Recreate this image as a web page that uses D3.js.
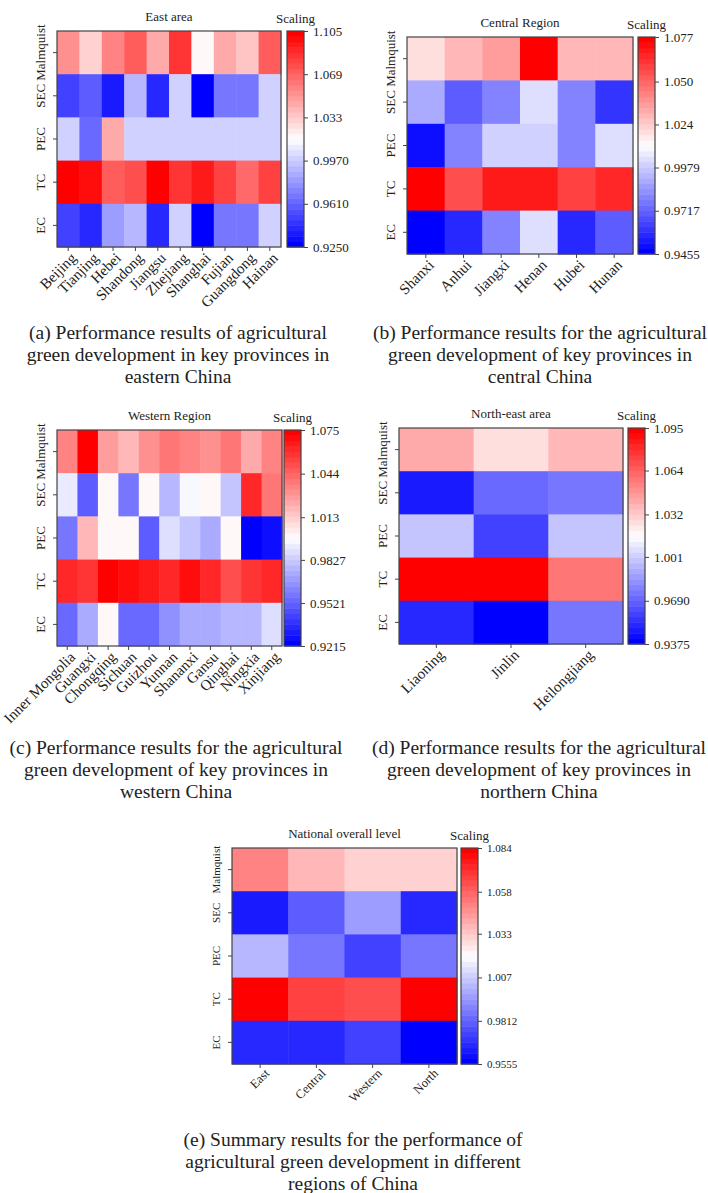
<!DOCTYPE html>
<html>
<head>
<meta charset="utf-8">
<script src="https://cdn.jsdelivr.net/npm/d3@7"></script>
<style>
  body { margin: 0; background: #fff; }
  svg { display: block; }
  text { font-family: "Liberation Serif", "Times New Roman", serif; fill: #222; }
</style>
</head>
<body>
<div id="chart"></div>
<script>
// ---- data ----
const indicators = ["Malmquist", "SEC", "PEC", "TC", "EC"];

const eastProvinces = ["Beijing", "Tianjing", "Hebei", "Shandong", "Jiangsu", "Zhejiang", "Shanghai", "Fujian", "Guangdong", "Hainan"];
const eastValues = [
    [1.055, 1.031, 1.059, 1.069, 1.045, 1.083, 1.019, 1.044, 1.033, 1.073],
    [0.950, 0.958, 0.936, 0.990, 0.941, 0.999, 0.925, 0.967, 0.967, 0.999],
    [1.000, 0.964, 1.045, 1.000, 1.000, 1.000, 1.000, 1.000, 1.000, 1.000],
    [1.105, 1.098, 1.073, 1.077, 1.105, 1.084, 1.094, 1.080, 1.066, 1.079],
    [0.950, 0.939, 0.980, 0.992, 0.943, 1.000, 0.925, 0.966, 0.966, 1.000]
];
const eastTicks = ["0.9250", "0.9610", "0.9970", "1.033", "1.069", "1.105"];

const centralProvinces = ["Shanxi", "Anhui", "Jiangxi", "Henan", "Hubei", "Hunan"];
const centralValues = [
    [1.019, 1.028, 1.037, 1.077, 1.028, 1.028],
    [0.991, 0.971, 0.979, 1.004, 0.979, 0.961],
    [0.951, 0.980, 1.000, 1.000, 0.980, 1.004],
    [1.077, 1.056, 1.070, 1.070, 1.058, 1.066],
    [0.9455, 0.956, 0.981, 1.004, 0.958, 0.970]
];
const centralTicks = ["0.9455", "0.9717", "0.9979", "1.024", "1.050", "1.077"];

const westernProvinces = ["Inner Mongolia", "Guangxi", "Chongqing", "Sichuan", "Guizhou", "Yunnan", "Shananxi", "Gansu", "Qinghai", "Ningxia", "Xinjiang"];
const westernValues = [
    [1.033, 1.075, 1.028, 1.019, 1.029, 1.040, 1.034, 1.032, 1.038, 1.024, 1.034],
    [0.991, 0.949, 1.001, 0.958, 1.001, 0.979, 0.995, 1.002, 0.980, 1.061, 1.038],
    [0.959, 1.019, 1.000, 1.000, 0.949, 0.989, 0.980, 0.974, 1.000, 0.9215, 0.928],
    [1.061, 1.058, 1.075, 1.069, 1.064, 1.061, 1.068, 1.063, 1.051, 1.058, 1.063],
    [0.953, 0.974, 1.000, 0.956, 0.956, 0.965, 0.972, 0.972, 0.977, 0.977, 0.989]
];
const westernTicks = ["0.9215", "0.9521", "0.9827", "1.013", "1.044", "1.075"];

const northProvinces = ["Liaoning", "Jinlin", "Heilongjiang"];
const northValues = [
    [1.042, 1.026, 1.037],
    [0.947, 0.970, 0.975],
    [0.999, 0.958, 0.998],
    [1.095, 1.095, 1.056],
    [0.950, 0.9375, 0.976]
];
const northTicks = ["0.9375", "0.9690", "1.001", "1.032", "1.064", "1.095"];

const nationalRegions = ["East", "Central", "Western", "North"];
const nationalValues = [
    [1.049, 1.036, 1.032, 1.032],
    [0.964, 0.981, 0.996, 0.968],
    [1.002, 0.986, 0.972, 0.985],
    [1.084, 1.066, 1.063, 1.084],
    [0.967, 0.968, 0.973, 0.9555]
];
const nationalTicks = ["0.9555", "0.9812", "1.007", "1.033", "1.058", "1.084"];

const captionA = ["(a) Performance results of agricultural", "green development in key provinces in", "eastern China"];
const captionB = ["(b) Performance results for the agricultural", "green development of key provinces in", "central China"];
const captionC = ["(c) Performance results for the agricultural", "green development of key provinces in", "western China"];
const captionD = ["(d) Performance results for the agricultural", "green development of key provinces in", "northern China"];
const captionE = ["(e) Summary results for the performance of", "agricultural green development in different", "regions of China"];

// ---- layout ----
const W = 708, H = 1193;

const svg = d3.select("#chart").append("svg")
    .attr("width", W)
    .attr("height", H);

const panels = [
    {title: "East area", cols: eastProvinces, vals: eastValues, ticks: eastTicks,
        x0: 57, x1: 281, y0: 31, y1: 247, cb: 287, fs: 13, xfs: 15, cfs: 13, xo: [9, 12],
        caption: captionA, cx: 178, cy: 339},
    {title: "Central Region", cols: centralProvinces, vals: centralValues, ticks: centralTicks,
        x0: 407, x1: 633, y0: 37, y1: 254, cb: 638, fs: 13, xfs: 15, cfs: 13, xo: [9, 12],
        caption: captionB, cx: 540, cy: 339},
    {title: "Western Region", cols: westernProvinces, vals: westernValues, ticks: westernTicks,
        x0: 57, x1: 282, y0: 430, y1: 646, cb: 284, fs: 13, xfs: 15, cfs: 13, xo: [9, 12],
        caption: captionC, cx: 176, cy: 754},
    {title: "North-east area", cols: northProvinces, vals: northValues, ticks: northTicks,
        x0: 399, x1: 623, y0: 428, y1: 644, cb: 628, fs: 13, xfs: 15, cfs: 13, xo: [9, 12],
        caption: captionD, cx: 539, cy: 754},
    {title: "National overall level", cols: nationalRegions, vals: nationalValues, ticks: nationalTicks,
        x0: 232, x1: 457, y0: 848, y1: 1064, cb: 461, fs: 11, xfs: 12.5, cfs: 11, xo: [10, 10],
        caption: captionE, cx: 353, cy: 1146}
];

function makeColor(lo, hi) {
    let lin = d3.scaleLinear()
        .domain([lo, (lo + hi) / 2, hi])
        .range(["#0000ff", "#ffffff", "#ff0000"]);
    let n = 40;
    let colors = d3.range(n).map(i => lin(lo + (hi - lo) * i / (n - 1)));
    return d3.scaleQuantize().domain([lo, hi]).range(colors);
}

function drawPanel(p) {
    let g = svg.append("g");
    let lo = +p.ticks[0], hi = +p.ticks[p.ticks.length - 1];
    let color = makeColor(lo, hi);

    let x = d3.scaleBand().domain(p.cols).range([p.x0, p.x1]);
    let y = d3.scaleBand().domain(indicators).range([p.y0, p.y1]);

    let cells = [];
    indicators.forEach((r, i) => p.cols.forEach((c, j) => cells.push({r: r, c: c, v: p.vals[i][j]})));

    g.selectAll("rect.cell")
        .data(cells)
        .enter().append("rect")
        .attr("class", "cell")
        .attr("x", d => x(d.c))
        .attr("y", d => y(d.r))
        .attr("width", x.bandwidth() + 0.5)
        .attr("height", y.bandwidth() + 0.5)
        .attr("fill", d => color(d.v));

    g.append("rect")
        .attr("x", p.x0).attr("y", p.y0)
        .attr("width", p.x1 - p.x0).attr("height", p.y1 - p.y0)
        .attr("fill", "none").attr("stroke", "#444").attr("stroke-width", 1.2);

    // y axis, labels rotated
    let yAxis = g.append("g")
        .attr("transform", `translate(${p.x0},0)`)
        .call(d3.axisLeft(y).tickSize(4));
    yAxis.select(".domain").remove();
    yAxis.selectAll("line").attr("stroke", "#444");
    yAxis.selectAll("text")
        .attr("x", null).attr("dy", null)
        .attr("text-anchor", "middle")
        .attr("transform", "translate(-12,0) rotate(-90)")
        .attr("font-size", p.fs)
        .style("font-size", p.fs + "px")
        .attr("fill", "#222");

    // x axis, labels at 45 degrees
    let xAxis = g.append("g")
        .attr("transform", `translate(0,${p.y1})`)
        .call(d3.axisBottom(x).tickSize(4));
    xAxis.select(".domain").remove();
    xAxis.selectAll("line").attr("stroke", "#444");
    xAxis.selectAll("text")
        .attr("y", null).attr("dy", null)
        .attr("text-anchor", "end")
        .attr("transform", `translate(${p.xo[0]},${p.xo[1]}) rotate(-45)`)
        .attr("font-size", p.xfs)
        .style("font-size", p.xfs + "px")
        .attr("fill", "#222");

    // colour bar
    let cbw = 17;
    let cy = d3.scaleLinear().domain([lo, hi]).range([p.y1, p.y0]);
    let bands = color.range().map(c => {
        let e = color.invertExtent(c);
        return {c: c, a: e[0], b: e[1]};
    });
    g.selectAll("rect.band")
        .data(bands)
        .enter().append("rect")
        .attr("class", "band")
        .attr("x", p.cb)
        .attr("y", d => cy(d.b))
        .attr("width", cbw)
        .attr("height", d => cy(d.a) - cy(d.b) + 0.5)
        .attr("fill", d => d.c);
    g.append("rect")
        .attr("x", p.cb).attr("y", p.y0)
        .attr("width", cbw).attr("height", p.y1 - p.y0)
        .attr("fill", "none").attr("stroke", "#444").attr("stroke-width", 1.2);

    let tickVals = p.ticks.map(Number);
    let cbAxis = g.append("g")
        .attr("transform", `translate(${p.cb + cbw},0)`)
        .call(d3.axisRight(cy).tickValues(tickVals).tickSize(4).tickPadding(5)
            .tickFormat((d, i) => p.ticks[i]));
    cbAxis.select(".domain").remove();
    cbAxis.selectAll("line").attr("stroke", "#444");
    cbAxis.selectAll("text")
        .attr("font-size", p.cfs)
        .style("font-size", p.cfs + "px")
        .attr("fill", "#222");

    // titles
    g.append("text")
        .attr("x", (p.x0 + p.x1) / 2)
        .attr("y", p.y0 - 10)
        .attr("text-anchor", "middle")
        .style("font-size", "13px")
        .text(p.title);
    g.append("text")
        .attr("x", p.cb + cbw / 2)
        .attr("y", p.y0 - 8)
        .attr("text-anchor", "middle")
        .style("font-size", "13px")
        .text("Scaling");

    // caption
    g.selectAll("text.caption")
        .data(p.caption)
        .enter().append("text")
        .attr("class", "caption")
        .attr("x", p.cx)
        .attr("y", (d, i) => p.cy + i * 22)
        .attr("text-anchor", "middle")
        .style("font-size", "19.5px")
        .attr("fill", "#111")
        .text(d => d);
}

panels.forEach(drawPanel);
</script>
</body>
</html>
